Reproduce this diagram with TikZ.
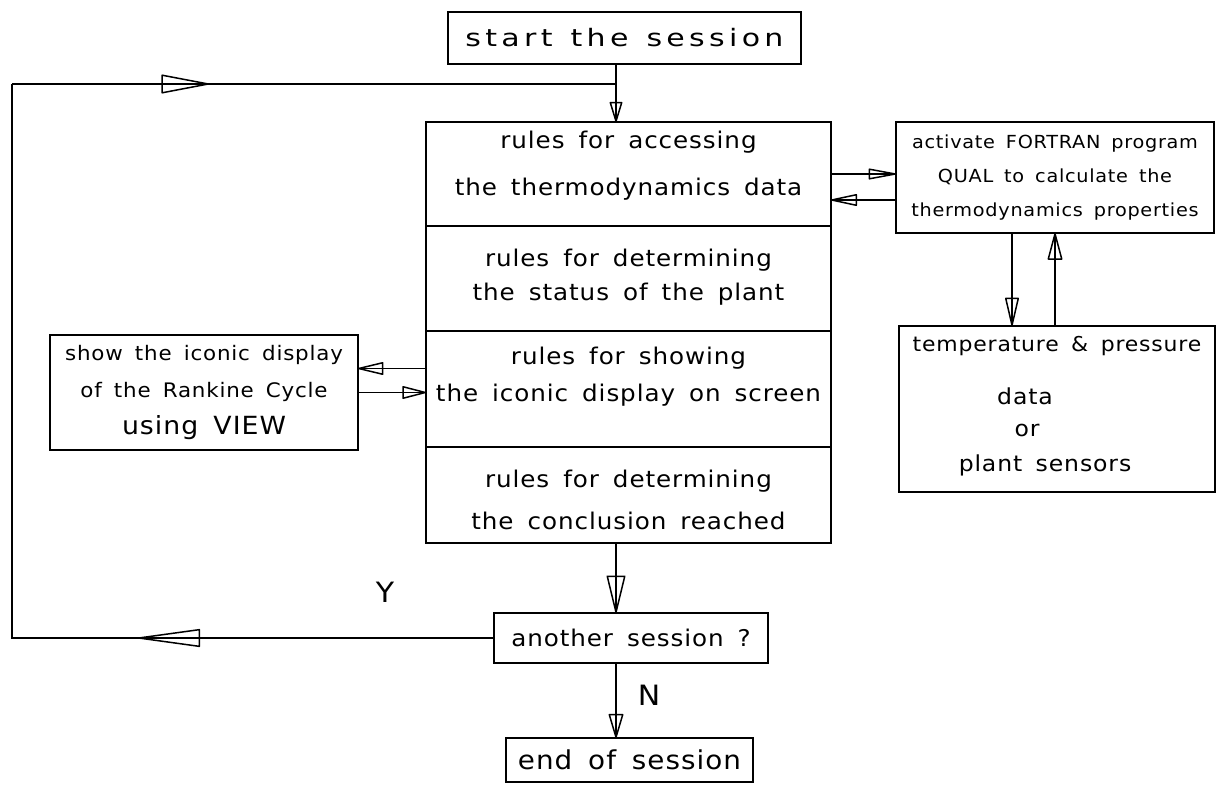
\documentclass[tikz,border=0pt]{standalone}
\usepackage{fontspec}
\usetikzlibrary{arrows.meta}
\newfontfamily\cadfont[FakeStretch=1.07,LetterSpace=4,WordSpace=1.6]{DejaVu Sans}
\newfontfamily\cadwide[FakeStretch=1.25,LetterSpace=18,WordSpace=1.3]{DejaVu Sans}
\tikzset{
  box/.style={draw,line width=1.5pt,inner sep=0pt,outer sep=0pt,align=center},
  rules/.style={align=center,font=\fontsize{23}{28}\cadfont},
  flow/.style={line width=1.5pt},
  tri/.style={-{Triangle[open,round,#1]},postaction={draw,-}},
  tri/.default={length=30pt,width=13pt},
}
\begin{document}
\begin{tikzpicture}[x=1pt,y=-1pt]
  \useasboundingbox (0,0) rectangle (1217,784);

  \node[box,minimum width=353pt,minimum height=52pt,font=\fontsize{24}{28}\cadwide] (start) at (624.5,38) {start the session};

  % the four rule blocks
  \node[box,minimum width=405pt,minimum height=104pt] (acc) at (628.5,174) {};
  \node[box,minimum width=405pt,minimum height=105pt] (stat) at (628.5,278.5) {};
  \node[box,minimum width=405pt,minimum height=116pt] (show) at (628.5,389) {};
  \node[box,minimum width=405pt,minimum height=96pt] (concl) at (628.5,495) {};
  \node[rules] (acctext) at (628.5,166) {rules for accessing\\[19pt]the thermodynamics data};
  \node[rules] (stattext) at (628.5,277) {rules for determining\\[6pt]the status of the plant};
  \node[rules] (showtext) at (628.5,377) {rules for showing\\[9pt]the iconic display on screen};
  \node[rules] (concltext) at (628.5,500) {rules for determining\\[14pt]the conclusion reached};

  \node[box,minimum width=318pt,minimum height=111pt,font=\fontsize{18}{34}\cadfont] (fort) at (1055,177.5)
    {activate FORTRAN program\\QUAL to calculate the\\thermodynamics properties};

  \node[box,minimum width=316pt,minimum height=166pt] (temp) at (1057,409) {};
  \node[font=\fontsize{20.5}{24}\cadfont] (temptext) at (1057,346) {temperature \& pressure};
  \node[font=\fontsize{22}{24}\cadfont] (tdata) at (1025,396) {data};
  \node[font=\fontsize{22}{24}\cadfont] (tor) at (1027,430) {or};
  \node[font=\fontsize{22}{24}\cadfont] (tsens) at (1045,465) {plant sensors};

  \node[box,minimum width=308pt,minimum height=115pt,font=\fontsize{20}{37}\cadfont] (view) at (204,392.5)
    {show the iconic display\\of the Rankine Cycle\\{\fontsize{25}{37}\selectfont using VIEW}};

  \node[box,minimum width=274pt,minimum height=50pt,font=\fontsize{23}{28}\cadfont] (ask) at (631,638) {another session ?};
  \node[box,minimum width=247pt,minimum height=44pt,font=\fontsize{26}{30}\cadfont] (stop) at (629.5,760) {end of session};

  \node[font=\fontsize{28}{30}\cadfont] (yes) at (385,592) {Y};
  \node[font=\fontsize{28}{30}\cadfont] (no) at (649,695) {N};

  % main flow
  \coordinate (j) at (616,84);
  \draw[flow] (start.south -| j) -- (j);
  \draw[flow,tri={length=22pt,width=13pt}] (j) -- (acc.north -| j);
  \draw[flow,tri={length=40pt,width=19pt}] (concl.south -| j) -- (ask.north -| j);
  \draw[flow,tri={length=26pt,width=15pt}] (ask.south -| j) -- (stop.north -| j);

  % loop back for another session
  \coordinate (yarr) at (138,638);
  \coordinate (ycorner) at (12,638);
  \coordinate (tcorner) at (12,84);
  \coordinate (tarr) at (209,84);
  \draw[flow,tri={length=67pt,width=18pt}] (ask.west) -- (yarr);
  \draw[flow] (yarr) -- (ycorner) -- (tcorner);
  \draw[flow,tri={length=51pt,width=19pt}] (tcorner) -- (tarr);
  \draw[flow] (tarr) -- (j);

  % FORTRAN program
  \coordinate (back) at ([yshift=-26pt]acc.east);
  \draw[flow,tri={length=31pt,width=11pt}] (acc.east) -- (acc.east -| fort.west);
  \draw[flow,tri={length=29pt,width=12pt}] (back -| fort.west) -- (back);
  \coordinate (down) at ([xshift=-43pt]fort.south);
  \draw[flow,tri={length=31pt,width=14pt}] (down) -- (down |- temp.north);
  \draw[flow,tri={length=29pt,width=15pt}] (fort.south |- temp.north) -- (fort.south);

  % iconic display
  \coordinate (toview) at ([yshift=24pt]view.east);
  \draw[flow,tri={length=28pt,width=13pt}] (toview -| show.west) -- (toview);
  \draw[flow,tri={length=26pt,width=13pt}] (view.east) -- (view.east -| show.west);
\end{tikzpicture}
\end{document}
